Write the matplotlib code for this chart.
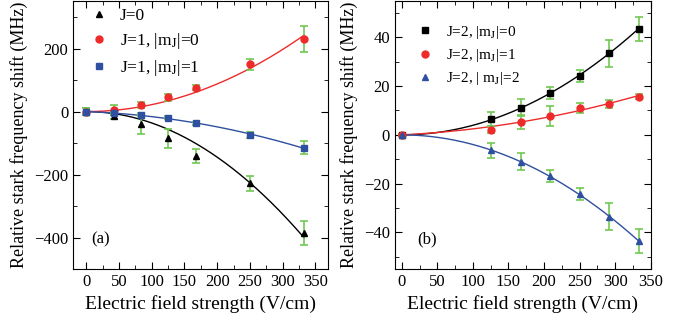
import matplotlib
matplotlib.use('Agg')

import matplotlib.pyplot as plt
import numpy as np
from matplotlib.ticker import MultipleLocator

plt.rcParams['font.family'] = ['Liberation Serif', 'DejaVu Serif']
plt.rcParams['mathtext.fontset'] = 'stix'

# panel (a)
field_a = [0, 42, 83, 125, 167, 250, 333]
j0 = [0, -15, -40, -85, -140, -228, -385]
j0_err = [10, 10, 30, 30, 22, 25, 38]
j1m0 = [0, 5, 20, 45, 75, 150, 230]
j1m0_err = [10, 15, 10, 10, 8, 18, 40]
j1m1 = [0, -5, -10, -20, -37, -75, -115]
j1m1_err = [10, 5, 5, 5, 5, 10, 20]

# panel (b)
field_b = [0, 125, 167, 208, 250, 292, 333]
j2m0 = [0, 6.5, 11.2, 17, 24.2, 33.5, 43.5]
j2m0_err = [0.5, 3, 3.5, 2.5, 2.5, 5.5, 5]
j2m1 = [0, 2.2, 5.3, 7.8, 11, 12.7, 15.7]
j2m1_err = [0.5, 1.5, 3, 4, 2, 1.5, 1.2]
j2m2 = [0, -6.3, -11, -17, -24.2, -33.5, -43.5]
j2m2_err = [0.5, 3, 3.5, 2.5, 2.5, 5.5, 5]

green = '#72c852'
red = '#ee2b2b'
blue = '#2f4fa0'


def fit_curve(x, y, linear=True):
    # least squares fit through the origin (a*x + b*x^2)
    x = np.asarray(x, float)
    y = np.asarray(y, float)
    cols = [x, x**2] if linear else [x**2]
    A = np.vstack(cols).T
    coef = np.linalg.lstsq(A, y, rcond=None)[0]
    xs = np.linspace(0, x.max(), 200)
    basis = [xs, xs**2] if linear else [xs**2]
    return xs, sum(c * b for c, b in zip(coef, basis))


def series(ax, x, y, err, color, marker, label, linear=True, ms=5):
    xs, ys = fit_curve(x, y, linear)
    ax.plot(xs, ys, color=color, lw=1, zorder=2)
    ax.errorbar(x, y, yerr=err, fmt='none', ecolor=green, elinewidth=1.2,
                capsize=3, capthick=1.2, zorder=3)
    ax.plot(x, y, linestyle='none', marker=marker, color=color, ms=ms,
            label=label, zorder=4)


def style(ax):
    ax.tick_params(which='both', direction='in', top=True, right=True,
                   labelsize=12)
    ax.tick_params(which='major', length=5)
    ax.tick_params(which='minor', length=3)
    ax.xaxis.set_major_locator(MultipleLocator(50))
    ax.xaxis.set_minor_locator(MultipleLocator(25))
    ax.set_xlabel('Electric field strength (V/cm)', fontsize=14)
    ax.set_ylabel('Relative stark frequency shift (MHz)', fontsize=13)


fig = plt.figure(figsize=(6.9, 3.25), dpi=100)
ax1 = fig.add_axes([0.106, 0.172, 0.370, 0.826])
ax2 = fig.add_axes([0.572, 0.172, 0.371, 0.826])

series(ax1, field_a, j0, j0_err, 'black', '^', 'J=0', linear=False)
series(ax1, field_a, j1m0, j1m0_err, red, 'o', r'J=1, |m$_\mathrm{J}$|=0', linear=False)
series(ax1, field_a, j1m1, j1m1_err, blue, 's', r'J=1, |m$_\mathrm{J}$|=1', ms=4.5)
ax1.set_xlim(-20, 370)
ax1.set_ylim(-500, 352)
ax1.yaxis.set_major_locator(MultipleLocator(200))
ax1.yaxis.set_minor_locator(MultipleLocator(100))
style(ax1)
ax1.legend(loc='upper left', frameon=False, fontsize=12.5, handletextpad=0.7,
           handlelength=1.0, bbox_to_anchor=(0.005, 1.03), labelspacing=0.4)
ax1.text(0.07, 0.11, '(a)', transform=ax1.transAxes, fontsize=12, va='center')

series(ax2, field_b, j2m0, j2m0_err, 'black', 's', r'J=2, |m$_\mathrm{J}$|=0', linear=False, ms=4.5)
series(ax2, field_b, j2m1, j2m1_err, red, 'o', r'J=2, |m$_\mathrm{J}$|=1')
series(ax2, field_b, j2m2, j2m2_err, blue, '^', r'J=2, | m$_\mathrm{J}$|=2')
ax2.set_xlim(-10, 350)
ax2.set_ylim(-55, 55)
ax2.yaxis.set_major_locator(MultipleLocator(20))
ax2.yaxis.set_minor_locator(MultipleLocator(10))
style(ax2)
ax2.legend(loc='upper left', frameon=False, fontsize=11, handletextpad=0.9,
           handlelength=1.0, bbox_to_anchor=(0.035, 0.965), labelspacing=0.4)
ax2.text(0.09, 0.11, '(b)', transform=ax2.transAxes, fontsize=12, va='center')

fig.savefig('out.png', dpi=100)
